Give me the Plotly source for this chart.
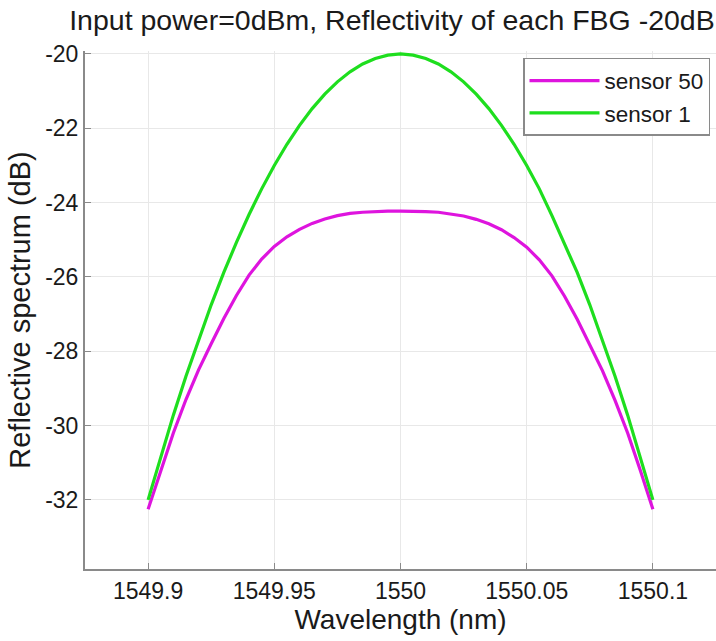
import plotly.graph_objects as go

wavelength = [1549.900, 1549.905, 1549.910, 1549.915, 1549.920, 1549.925, 1549.930, 1549.935,
              1549.940, 1549.945, 1549.950, 1549.955, 1549.960, 1549.965, 1549.970, 1549.975,
              1549.980, 1549.985, 1549.990, 1549.995, 1550.000, 1550.005, 1550.010, 1550.015,
              1550.020, 1550.025, 1550.030, 1550.035, 1550.040, 1550.045, 1550.050, 1550.055,
              1550.060, 1550.065, 1550.070, 1550.075, 1550.080, 1550.085, 1550.090, 1550.095,
              1550.100]

sensor50 = [-32.25, -31.20, -30.20, -29.30, -28.50, -27.80, -27.12, -26.50, -25.95, -25.52,
            -25.18, -24.92, -24.72, -24.56, -24.44, -24.35, -24.29, -24.26, -24.24, -24.23,
            -24.23, -24.23, -24.24, -24.26, -24.30, -24.36, -24.45, -24.57, -24.73, -24.94,
            -25.20, -25.54, -25.97, -26.52, -27.14, -27.82, -28.52, -29.32, -30.20, -31.20,
            -32.25]

sensor1 = [-32.00, -30.83, -29.72, -28.67, -27.68, -26.75, -25.88, -25.07, -24.32, -23.63,
           -23.00, -22.43, -21.92, -21.47, -21.08, -20.75, -20.48, -20.27, -20.12, -20.03,
           -20.00, -20.03, -20.12, -20.27, -20.48, -20.75, -21.08, -21.47, -21.92, -22.43,
           -23.00, -23.63, -24.35, -25.12, -25.88, -26.75, -27.68, -28.67, -29.72, -30.83,
           -32.00]

x_ticks = [1549.9, 1549.95, 1550, 1550.05, 1550.1]
x_tick_labels = ["1549.9", "1549.95", "1550", "1550.05", "1550.1"]
y_ticks = [-20, -22, -24, -26, -28, -30, -32]
y_tick_labels = ["-20", "-22", "-24", "-26", "-28", "-30", "-32"]

FONT = "Liberation Sans, Arial, sans-serif"
TXT = "#1a1a1a"

fig = go.Figure()
fig.add_trace(go.Scatter(x=wavelength, y=sensor50, mode="lines", name="sensor 50",
                         line=dict(color="rgb(222,20,222)", width=3.2)))
fig.add_trace(go.Scatter(x=wavelength, y=sensor1, mode="lines", name="sensor 1",
                         line=dict(color="rgb(30,222,30)", width=3.2)))

fig.update_layout(
    width=716, height=641,
    margin=dict(l=85, r=0, t=51, b=72),
    paper_bgcolor="white", plot_bgcolor="white",
    font=dict(family=FONT, color=TXT, size=23),
    title=dict(text="Input power=0dBm, Reflectivity of each FBG -20dB",
               x=0.998, xanchor="right", xref="paper", y=0.985, yanchor="top",
               font=dict(family=FONT, size=28.5, color=TXT)),
    showlegend=True,
    legend=dict(x=0.9905, xanchor="right", y=0.9865, yanchor="top",
                bgcolor="white", bordercolor="#8a8a8a", borderwidth=1.5,
                font=dict(family=FONT, size=22.5, color=TXT),
                itemwidth=70, tracegroupgap=0),
)

fig.update_xaxes(
    range=[1549.875, 1550.125], tickvals=x_ticks, ticktext=x_tick_labels,
    showline=True, linecolor="#8a8a8a", linewidth=2, mirror=False,
    ticks="inside", ticklen=6, tickcolor="#8a8a8a", tickwidth=1,
    showgrid=True, gridcolor="#e8e8e8", gridwidth=1, zeroline=False,
    tickfont=dict(family=FONT, size=23, color=TXT),
    title=dict(text="Wavelength (nm)", font=dict(family=FONT, size=28, color=TXT), standoff=2),
)
fig.update_yaxes(
    range=[-33.86, -19.92], tickvals=y_ticks, ticktext=y_tick_labels,
    showline=True, linecolor="#8a8a8a", linewidth=2, mirror=False,
    ticks="inside", ticklen=6, tickcolor="#8a8a8a", tickwidth=1,
    showgrid=True, gridcolor="#e8e8e8", gridwidth=1, zeroline=False,
    tickfont=dict(family=FONT, size=23, color=TXT),
    title=dict(text="Reflective spectrum (dB)", font=dict(family=FONT, size=29, color=TXT), standoff=6),
)

fig.write_html("out.html")
